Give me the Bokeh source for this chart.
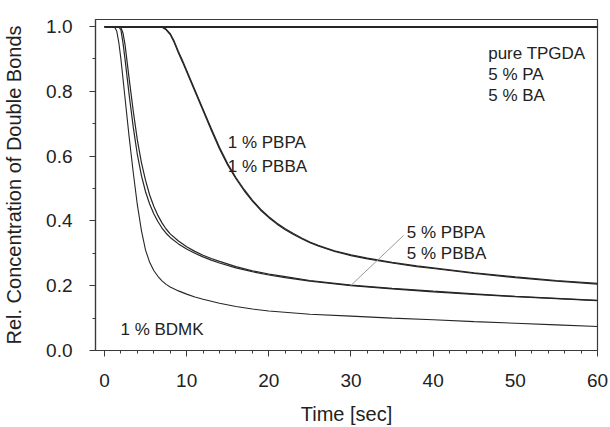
from bokeh.plotting import figure
from bokeh.models import Range1d, FixedTicker, PrintfTickFormatter
from bokeh.core.properties import value
from bokeh.embed import file_html
from bokeh.resources import INLINE

FONT = "Liberation Sans"

# ---- data ----
t_flat = [0, 10, 20, 30, 40, 50, 60]
c_tpgda = [1.0, 1.0, 1.0, 1.0, 1.0, 1.0, 1.0]
c_pa = [0.998, 0.998, 0.998, 0.998, 0.998, 0.998, 0.998]
c_ba = [0.997, 0.997, 0.997, 0.997, 0.997, 0.997, 0.997]

t_bdmk = [0, 1.2, 1.5, 1.75, 2.0, 2.5, 3.0, 3.5, 4.0, 4.5, 5.0, 5.5, 6.0, 6.5, 7.0, 7.5,
          8.0, 9.0, 10, 11, 12, 14, 16, 18, 20, 25, 30, 35, 40, 45, 50, 55, 60]
c_bdmk = [1.0, 1.0, 0.985, 0.95, 0.9, 0.78, 0.66, 0.55, 0.45, 0.37, 0.31, 0.272, 0.247,
          0.229, 0.215, 0.204, 0.196, 0.184, 0.174, 0.165, 0.158, 0.146, 0.136, 0.128,
          0.122, 0.112, 0.106, 0.1, 0.095, 0.089, 0.084, 0.079, 0.074]

t_5p = [0, 1.7, 2.0, 2.25, 2.5, 3.0, 3.5, 4.0, 4.5, 5.0, 5.5, 6.0, 6.5, 7.0, 7.5, 8.0,
        9.0, 10, 11, 12, 13, 14, 16, 18, 20, 22, 25, 30, 35, 40, 45, 50, 55, 60]
c_5pbpa = [1.0, 1.0, 0.99, 0.95, 0.9, 0.79, 0.69, 0.605, 0.54, 0.49, 0.452, 0.422,
           0.398, 0.378, 0.362, 0.349, 0.329, 0.313, 0.3, 0.289, 0.279, 0.27, 0.255,
           0.243, 0.233, 0.225, 0.214, 0.2, 0.19, 0.181, 0.173, 0.166, 0.16, 0.154]
c_5pbba = [1.0, 1.0, 0.997, 0.98, 0.945, 0.84, 0.74, 0.65, 0.58, 0.525, 0.48, 0.445,
           0.417, 0.394, 0.375, 0.36, 0.338, 0.32, 0.306, 0.294, 0.284, 0.275, 0.259,
           0.246, 0.236, 0.228, 0.216, 0.202, 0.192, 0.183, 0.175, 0.167, 0.161, 0.155]

t_1p = [0, 6.5, 7.0, 7.5, 8.0, 8.5, 9.0, 9.5, 10, 11, 12, 13, 14, 15, 16, 17, 18, 19,
        20, 21, 22, 23, 24, 25, 26, 27, 28, 30, 32, 35, 38, 40, 45, 50, 55, 60]
c_1pbpa = [1.0, 1.0, 0.998, 0.99, 0.975, 0.95, 0.918, 0.89, 0.86, 0.8, 0.74, 0.68,
           0.622, 0.572, 0.53, 0.493, 0.461, 0.433, 0.41, 0.39, 0.373, 0.358, 0.345,
           0.333, 0.323, 0.314, 0.306, 0.293, 0.283, 0.27, 0.259, 0.253, 0.238, 0.225,
           0.214, 0.205]
c_1pbba = [1.0, 1.0, 0.999, 0.992, 0.978, 0.954, 0.923, 0.895, 0.865, 0.805, 0.745,
           0.685, 0.627, 0.576, 0.534, 0.497, 0.464, 0.436, 0.413, 0.393, 0.376, 0.361,
           0.347, 0.335, 0.325, 0.316, 0.308, 0.295, 0.285, 0.272, 0.261, 0.255, 0.24,
           0.227, 0.216, 0.207]

x_major = [0, 10, 20, 30, 40, 50, 60]
y_major = [0.0, 0.2, 0.4, 0.6, 0.8, 1.0]

# ---- annotation positions (data units) ----
lbl_text = ["pure TPGDA", "5 % PA", "5 % BA", "1 % PBPA", "1 % PBBA",
            "5 % PBPA", "5 % PBBA", "1 % BDMK"]
lbl_x = [46.7, 46.7, 46.7, 15.0, 15.0, 36.8, 36.8, 1.95]
lbl_y = [0.916, 0.852, 0.787, 0.643, 0.568, 0.364, 0.299, 0.064]
leader = dict(x0=29.95, y0=0.2, x1=36.4, y1=0.355)

AX = "#3a3a3a"
LC = "#262626"

p = figure(width=610, height=427,
           x_range=Range1d(-1.09, 60), y_range=Range1d(0, 1.0216),
           output_backend="svg", toolbar_location=None,
           min_border_left=92, min_border_right=13,
           min_border_top=19, min_border_bottom=77)

p.grid.visible = False
p.outline_line_color = AX
p.outline_line_width = 1.2
p.background_fill_color = "white"
p.border_fill_color = "white"

p.xaxis.ticker = FixedTicker(ticks=x_major,
                             minor_ticks=[v for v in range(2, 60, 2) if v % 10])
p.yaxis.ticker = FixedTicker(ticks=y_major, minor_ticks=[0.1, 0.3, 0.5, 0.7, 0.9])
p.yaxis.formatter = PrintfTickFormatter(format="%.1f")

for ax in (p.xaxis, p.yaxis):
    ax.axis_line_color = AX
    ax.axis_line_width = 1.2
    ax.major_tick_line_color = AX
    ax.minor_tick_line_color = AX
    ax.major_tick_in = 0
    ax.major_tick_out = 6
    ax.minor_tick_in = 0
    ax.minor_tick_out = 3
    ax.major_label_text_font = FONT
    ax.major_label_text_font_size = "19px"
    ax.major_label_text_color = "#222222"
    ax.axis_label_text_font = FONT
    ax.axis_label_text_font_size = "20px"
    ax.axis_label_text_font_style = "normal"
    ax.axis_label_text_color = "#222222"

p.xaxis.axis_label = "Time [sec]"
p.yaxis.axis_label = "Rel. Concentration of Double Bonds"
p.xaxis.major_label_standoff = 17
p.xaxis.axis_label_standoff = 13
p.yaxis.major_label_standoff = 17
p.yaxis.axis_label_standoff = 18

for ys in (c_tpgda, c_pa, c_ba):
    p.line(t_flat, ys, line_color=LC, line_width=1.2)
p.line(t_bdmk, c_bdmk, line_color=LC, line_width=1.1)
p.line(t_5p, c_5pbpa, line_color=LC, line_width=1.2)
p.line(t_5p, c_5pbba, line_color=LC, line_width=1.2)
p.line(t_1p, c_1pbpa, line_color=LC, line_width=1.2)
p.line(t_1p, c_1pbba, line_color=LC, line_width=1.2)

p.segment(x0=[leader["x0"]], y0=[leader["y0"]], x1=[leader["x1"]], y1=[leader["y1"]],
          line_color="#9a9a9a", line_width=1)

p.text(x=lbl_x, y=lbl_y, text=lbl_text, text_font=value(FONT),
       text_font_size="17px", text_color="#222222",
       text_align="left", text_baseline="alphabetic")

open("out.html", "w").write(file_html(p, INLINE))
